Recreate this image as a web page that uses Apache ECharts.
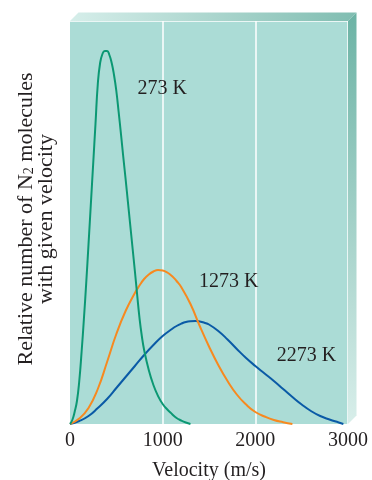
<!DOCTYPE html>
<html><head><meta charset="utf-8">
<script src="https://cdn.jsdelivr.net/npm/echarts@6/dist/echarts.min.js"></script>
<style>html,body{margin:0;padding:0;background:#fff}#c{width:372px;height:480px}</style>
</head><body><div id="c"></div>
<script>
// ---- data ----
const xTicks = [0, 1000, 2000, 3000];
const seriesNames = ['273 K', '1273 K', '2273 K'];

const vel273 = [0, 25, 50, 75, 100, 125, 150, 175, 200, 225, 250, 275, 300, 325, 350, 375, 400, 425, 450, 475, 500, 525, 550, 575, 600, 625, 650, 675, 700, 725, 750, 775, 800, 850, 900, 950, 1000, 1050, 1100, 1150, 1200, 1250, 1300];
const rel273 = [0, 4, 12, 23, 43, 72, 105, 141, 180, 220, 260, 300, 340, 361, 370, 373, 373, 369, 361, 349, 333, 312, 290, 267, 245, 222, 199, 176, 153, 129, 106, 88, 74, 54, 39, 28, 20, 14.5, 10, 6, 3.5, 1.5, 0];

const vel1273 = [0, 100, 200, 300, 400, 500, 600, 700, 750, 800, 850, 900, 950, 1000, 1050, 1100, 1150, 1200, 1300, 1400, 1500, 1600, 1700, 1800, 1900, 2000, 2100, 2200, 2300, 2400];
const rel1273 = [0, 5.5, 16, 35, 62, 90, 113, 131, 138.5, 145, 149.5, 152.5, 154, 153.5, 151.5, 148, 143, 137, 120, 98, 77.5, 59, 43, 29.5, 19.5, 12, 7.5, 4, 1.8, 0];

const vel2273 = [0, 100, 200, 300, 400, 500, 600, 700, 800, 900, 1000, 1100, 1150, 1200, 1250, 1300, 1350, 1400, 1450, 1500, 1600, 1700, 1800, 1900, 2000, 2100, 2200, 2300, 2400, 2500, 2600, 2700, 2800, 2900, 2950];
const rel2273 = [0, 3, 8, 16, 25, 36, 47, 58, 69, 79, 88, 95, 98, 100.3, 102, 102.8, 103, 102.5, 101.3, 99.5, 93, 84.5, 75, 66, 58, 50.5, 43, 35, 27, 19.5, 13, 8, 4.5, 1.5, 0];

const labelVel = [995, 1713, 2551];
const labelRel = [335, 142, 68];

const yMax = 403;
// --------------------------------------

const colors = ['#0b9873', '#f7891f', '#0a5aa6'];
const serif = '"Liberation Serif", "DejaVu Serif", serif';
const textColor = '#231f20';

function pairs(v, r) { return v.map((x, i) => [x, r[i]]); }
const dataSets = [pairs(vel273, rel273), pairs(vel1273, rel1273), pairs(vel2273, rel2273)];

const chart = echarts.init(document.getElementById('c'), null, {renderer: 'canvas'});
chart.setOption({
  animation: false,
  grid: {left: 70, right: 24, top: 21, bottom: 56, show: true, backgroundColor: '#abdcd6', borderWidth: 0,
         containLabel: false, outerBoundsMode: 'none'},
  xAxis: {
    type: 'value', min: xTicks[0], max: xTicks[xTicks.length - 1], interval: 1000,
    axisLine: {show: false}, axisTick: {show: false},
    axisLabel: {margin: 7, fontFamily: serif, fontSize: 20, color: textColor,
      formatter: v => xTicks.includes(v) ? String(v) : ''},
    splitLine: {show: true, showMinLine: false, lineStyle: {color: '#ffffff', width: 1.5}},
    name: 'Velocity (m/s)', nameLocation: 'middle', nameGap: 37,
    nameTextStyle: {fontFamily: serif, fontSize: 20, color: textColor}
  },
  yAxis: {
    type: 'value', min: 0, max: yMax, interval: yMax,
    axisLine: {show: false}, axisTick: {show: false}, axisLabel: {show: false},
    splitLine: {show: true, showMinLine: false, lineStyle: {color: '#ffffff', width: 1.5}}
  },
  series: dataSets.map((d, i) => ({
    type: 'line', name: seriesNames[i], data: d, showSymbol: false, smooth: 0.5,
    lineStyle: {color: colors[i], width: 2}, z: 5 - i
  }))
});

const rect = chart.getModel().getComponent('grid').coordinateSystem.getRect();
const L = rect.x, T = rect.y, R = rect.x + rect.width, B = rect.y + rect.height;
const d = 8.5;
const graphics = [
  {type: 'polygon', shape: {points: [[L, T], [L + d, T - d], [R + d, T - d], [R, T]]},
   style: {fill: new echarts.graphic.LinearGradient(0, 0, 1, 0, [{offset: 0, color: '#d6eeea'}, {offset: 1, color: '#80bdb1'}])}, silent: true},
  {type: 'polygon', shape: {points: [[R, T], [R + d, T - d], [R + d, B - d], [R, B]]},
   style: {fill: new echarts.graphic.LinearGradient(0, 0, 0, 1, [{offset: 0, color: '#6cb3a5'}, {offset: 1, color: '#d8eeea'}])}, silent: true},
  {type: 'text', x: 36, y: 219, rotation: Math.PI / 2,
   style: {text: '{a|Relative number of N}{s|2}{a| molecules}\n{a|with given velocity}', align: 'center', verticalAlign: 'middle',
     rich: {a: {fontFamily: serif, fontSize: 22, lineHeight: 20, fill: textColor},
            s: {fontFamily: serif, fontSize: 14, lineHeight: 20, fill: textColor, verticalAlign: 'bottom', padding: [9, 0, 0, 0]}}}}
];
labelVel.forEach((v, i) => {
  const p = chart.convertToPixel({gridIndex: 0}, [v, labelRel[i]]);
  graphics.push({type: 'text', x: p[0], y: p[1], z: 10,
    style: {text: seriesNames[i], fontFamily: serif, fontSize: 20, fill: textColor, align: 'center', verticalAlign: 'middle'}});
});
chart.setOption({graphic: graphics});
</script>
</body></html>
